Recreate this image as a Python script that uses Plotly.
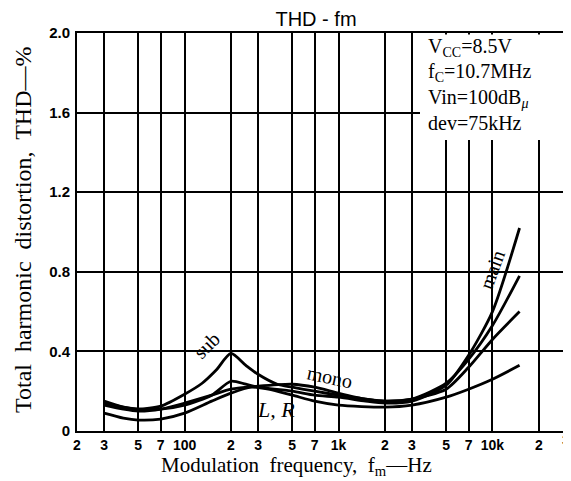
import plotly.graph_objects as go
import math

# ---- data ----
main_f = [30, 40, 50, 70, 100, 150, 200, 250, 300, 500, 700, 1000, 1500, 2000, 3000, 5000, 7000, 10000, 15000]
main_thd = [0.14, 0.12, 0.11, 0.11, 0.13, 0.18, 0.25, 0.235, 0.22, 0.20, 0.18, 0.17, 0.15, 0.14, 0.15, 0.23, 0.38, 0.60, 1.02]

sub_f = [30, 40, 50, 70, 100, 130, 160, 200, 250, 300, 400, 500, 700, 1000, 1500, 2000, 3000, 5000, 7000, 10000, 15000]
sub_thd = [0.15, 0.12, 0.11, 0.125, 0.185, 0.24, 0.305, 0.39, 0.33, 0.285, 0.235, 0.22, 0.20, 0.18, 0.16, 0.15, 0.16, 0.24, 0.36, 0.53, 0.78]

mono_f = [30, 40, 50, 70, 100, 150, 200, 300, 500, 700, 1000, 1500, 2000, 3000, 5000, 7000, 10000, 15000]
mono_thd = [0.13, 0.11, 0.10, 0.11, 0.14, 0.18, 0.21, 0.225, 0.235, 0.22, 0.19, 0.16, 0.15, 0.16, 0.21, 0.32, 0.46, 0.60]

lr_f = [30, 40, 50, 70, 100, 150, 200, 270, 350, 500, 700, 1000, 2000, 3000, 5000, 7000, 10000, 15000]
lr_thd = [0.09, 0.065, 0.055, 0.06, 0.09, 0.15, 0.19, 0.22, 0.21, 0.18, 0.15, 0.13, 0.12, 0.13, 0.17, 0.21, 0.26, 0.33]

x_tickvals = [20, 30, 50, 70, 100, 200, 300, 500, 700, 1000, 2000, 3000, 5000, 7000, 10000, 20000, 30000]
x_ticktext = ["2", "3", "5", "7", "100", "2", "3", "5", "7", "1k", "2", "3", "5", "7", "10k", "2", "3"]
y_tickvals = [0, 0.4, 0.8, 1.2, 1.6, 2.0]
y_ticktext = ["0", "0.4", "0.8", "1.2", "1.6", "2.0"]

conditions = ["V<sub>CC</sub>=8.5V", "f<sub>C</sub>=10.7MHz", "Vin=100dB<sub><i>μ</i></sub>", "dev=75kHz"]

# page has an 8px body margin: figure is placed at (8, 8) in the window
OFF = 8
W, H = 566, 473
L, T = 77 - OFF, 33 - OFF
PW, PH = 489, 398
R, B = W - L - PW, H - T - PH


def px_x(page_x):
    return (page_x - 77) / PW


def px_y(page_y):
    return (431 - page_y) / PH


fig = go.Figure()
for f, v, name in [(main_f, main_thd, "main"), (sub_f, sub_thd, "sub"),
                   (mono_f, mono_thd, "mono"), (lr_f, lr_thd, "L, R")]:
    fig.add_trace(go.Scatter(x=f, y=v, mode="lines", name=name,
                             line=dict(color="black", width=2.8, shape="spline", smoothing=0.7)))

serif = "Liberation Serif, Times New Roman, serif"
sans = "Liberation Sans, Arial, sans-serif"
tick_font = dict(family=sans, size=14, color="black", weight="bold")

# the last x tick label sits on the right edge; draw it as an annotation so it is not dropped
axis_ticktext = x_ticktext[:-1] + [""]

fig.update_layout(
    width=W, height=H,
    margin=dict(l=L, r=R, t=T, b=B, autoexpand=False),
    paper_bgcolor="white", plot_bgcolor="white",
    showlegend=False,
    xaxis=dict(type="log", range=[math.log10(20), math.log10(30050)],
               tickvals=x_tickvals, ticktext=axis_ticktext, automargin=False,
               showgrid=True, gridcolor="black", gridwidth=1.8,
               showline=True, linecolor="black", linewidth=1.8, mirror=True,
               ticks="", zeroline=False, ticklabelstandoff=0, ticklabeloverflow="allow",
               tickfont=tick_font),
    yaxis=dict(range=[0, 2.0], tickvals=y_tickvals, ticktext=y_ticktext, automargin=False,
               showgrid=True, gridcolor="black", gridwidth=1.8,
               showline=True, linecolor="black", linewidth=1.8, mirror=True,
               ticks="", zeroline=False, ticklabelstandoff=2,
               tickfont=dict(family=sans, size=15, color="black", weight="bold")),
    title=dict(text="THD - fm", x=(316 - OFF) / W, xanchor="center", y=1 - (19 - OFF) / H,
               yanchor="middle", font=dict(family=sans, size=20, color="black"), automargin=False),
)

fig.add_annotation(x=math.log10(x_tickvals[-1]), xref="x", yref="paper", y=px_y(440),
                   text=x_ticktext[-1], showarrow=False, xanchor="center", yanchor="middle",
                   font=tick_font)

# axis titles
fig.add_annotation(xref="paper", yref="paper", x=px_x(23), y=px_y(230),
                   text="Total  harmonic  distortion,  THD—%", textangle=-90, showarrow=False,
                   xanchor="center", yanchor="middle",
                   font=dict(family=serif, size=24, color="black"))
fig.add_annotation(xref="paper", yref="paper", x=px_x(296), y=px_y(466),
                   text="Modulation  frequency,  f<sub>m</sub>—Hz", showarrow=False,
                   xanchor="center", yanchor="middle",
                   font=dict(family=serif, size=21, color="black"))

# condition box
fig.add_shape(type="rect", xref="paper", yref="paper", x0=px_x(420), x1=0.996,
              y0=px_y(140), y1=0.996, fillcolor="white", line=dict(width=0), layer="above")
for i, t in enumerate(conditions):
    fig.add_annotation(xref="paper", yref="paper", x=px_x(426), y=px_y(47 + 25.5 * i),
                       text=t, showarrow=False, xanchor="left", yanchor="middle",
                       font=dict(family=serif, size=20, color="black"))

labels = [("sub", 140, 0.43, -45, 20), ("mono", 880, 0.27, 12, 20),
          ("<i>L, R</i>", 390, 0.11, 0, 22), ("main", 9900, 0.81, -70, 20)]
for txt, fx, fy, ang, sz in labels:
    fig.add_annotation(x=math.log10(fx), y=fy, text=txt, showarrow=False, textangle=ang,
                       font=dict(family=serif, size=sz, color="black"))

fig.write_html("out.html")
